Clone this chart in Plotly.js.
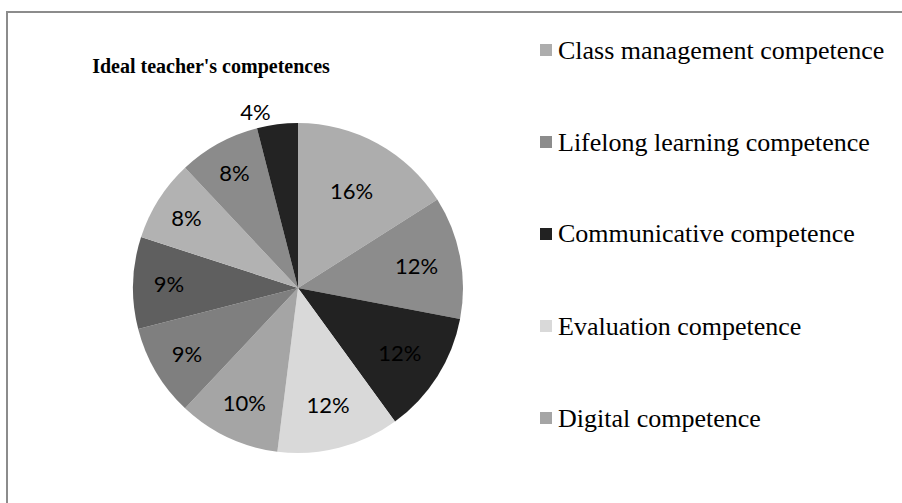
<!DOCTYPE html>
<html>
<head>
<meta charset="utf-8">
<script src="https://cdn.plot.ly/plotly-3.0.1.min.js"></script>
<style>
  html, body { margin: 0; padding: 0; background: #fff; }
  #wrap { position: relative; width: 902px; height: 503px; overflow: hidden; }
  #chart { position: absolute; left: 0; top: 0; width: 902px; height: 503px; }
  #frame {
    position: absolute; left: 6px; top: 11px; width: 910px; height: 510px;
    border-left: 2px solid #8c8c8c; border-top: 2px solid #8c8c8c;
    pointer-events: none;
  }
</style>
</head>
<body>
<div id="wrap">
  <div id="chart"></div>
  <div id="frame"></div>
</div>
<script>
// slices in clockwise order from 12 o'clock
const labels = [
  "Class management competence",
  "Lifelong learning competence",
  "Communicative competence",
  "Evaluation competence",
  "Digital competence",
  "Competence 6",
  "Competence 7",
  "Competence 8",
  "Competence 9",
  "Competence 10",
];
const shares = [16, 12, 12, 12, 10, 9, 9, 8, 8, 4];
const sliceColors = [
  "#adadad", "#8c8c8c", "#222222", "#d9d9d9", "#a5a5a5",
  "#7f7f7f", "#5f5f5f", "#b2b2b2", "#8b8b8b", "#232323",
];
// only the first five show up in the legend (as in the original)
const legendCount = 5;

const W = 902;
const H = 503;

const pie = {
  type: "pie",
  labels: labels,
  values: shares,
  sort: false,
  direction: "clockwise",
  rotation: 0,
  marker: { colors: sliceColors, line: { width: 0 } },
  texttemplate: "%{percent:.0%}",
  textposition: shares.map((v) => (v < 5 ? "outside" : "inside")),
  insidetextorientation: "horizontal",
  textfont: { family: "Lato, 'Open Sans', sans-serif", size: 22, color: "#000" },
  outsidetextfont: { family: "Lato, 'Open Sans', sans-serif", size: 22, color: "#000" },
  automargin: false,
  showlegend: false,
  hoverinfo: "label+percent",
  domain: {
    x: [(298 - 165) / W, (298 + 165) / W],
    y: [(H - 453) / H, (H - 123) / H],
  },
};

// hand-made legend: square + label, one row every 92px
const shapes = [];
const annotations = [];
for (let i = 0; i < legendCount; i++) {
  const cy = 50 + i * 92;
  shapes.push({
    type: "rect",
    xref: "paper", yref: "paper",
    x0: 540 / W, x1: 552 / W,
    y0: 1 - (cy + 6) / H, y1: 1 - (cy - 6) / H,
    fillcolor: sliceColors[i],
    line: { width: 0 },
  });
  annotations.push({
    xref: "paper", yref: "paper",
    x: 556 / W, y: 1 - cy / H,
    xanchor: "left", yanchor: "middle",
    text: labels[i],
    showarrow: false,
    font: { family: "'Liberation Serif', 'Times New Roman', serif", size: 26, color: "#000" },
  });
}

const layout = {
  width: W,
  height: H,
  margin: { l: 0, r: 0, t: 0, b: 0 },
  paper_bgcolor: "#fff",
  title: {
    text: "<b>Ideal teacher's competences</b>",
    x: 211 / W,
    xanchor: "center",
    y: 1 - 66 / H,
    yanchor: "middle",
    font: { family: "'Liberation Serif', 'Times New Roman', serif", size: 20, color: "#000" },
  },
  shapes: shapes,
  annotations: annotations,
  showlegend: false,
};

Plotly.newPlot("chart", [pie], layout, { displayModeBar: false, staticPlot: true });
</script>
</body>
</html>
